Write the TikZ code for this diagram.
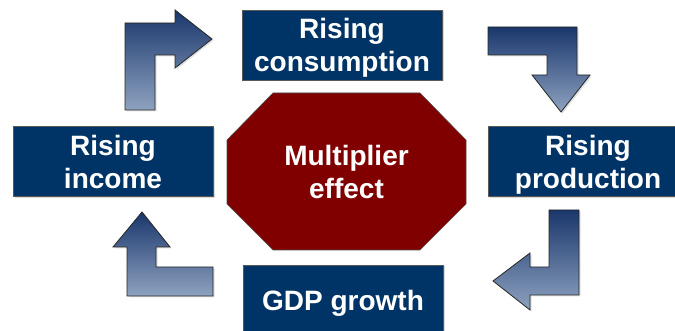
\documentclass[tikz,border=0pt]{standalone}
\usepackage{fontspec}
\setmainfont{Liberation Sans}
\usetikzlibrary{shadows}

\definecolor{boxblue}{RGB}{0,51,102}
\definecolor{multred}{RGB}{128,0,0}
\definecolor{arrowtop}{RGB}{26,55,108}
\definecolor{arrowbot}{RGB}{142,162,192}

\begin{document}
\begin{tikzpicture}[
    x=1pt, y=1pt,
    box/.style={rectangle, draw=black!65, fill=boxblue, text=white,
                minimum width=200pt, minimum height=70pt, align=center,
                text depth=0pt,
                font=\fontsize{28}{33}\selectfont\bfseries,
                drop shadow={shadow xshift=1.5pt, shadow yshift=-1.5pt, opacity=0.3}},
    octa/.style={draw=black!70, fill=multred, line width=0.6pt},
    multtext/.style={text=white, align=center,
                font=\fontsize{28}{33}\selectfont\bfseries},
    bent/.style={draw=black!85, line width=0.8pt, line join=miter,
                top color=arrowtop, bottom color=arrowbot,
                drop shadow={shadow xshift=1.5pt, shadow yshift=-1.5pt, opacity=0.25}}
]
  \useasboundingbox (0,0) rectangle (675,331);

  \node[box] (cons) at (342,286)   {Rising\\consumption};
  \node[box] (prod) at (588,169.5) {Rising\\production};
  \node[box] (gdp)  at (343,31)    {GDP growth};
  \node[box] (inc)  at (113,169.5) {Rising\\income};

  % octagon in the middle
  \path[octa] (273,238) -- (420,238) -- (466,191) -- (466,127)
              -- (420,81) -- (273,81) -- (227,127) -- (227,191) -- cycle;
  \node[multtext] (mult) at (346.5,159.5) {Multiplier\\effect};

  % bent block arrows
  \path[bent] (125,221) -- (125,308) -- (175,308) -- (175,321) -- (212,292)
              -- (175,263) -- (175,276) -- (155,276) -- (155,221) -- cycle;
  \path[bent] (488,304) -- (577,304) -- (577,256) -- (590,256) -- (561,219)
              -- (532,256) -- (547,256) -- (547,276) -- (488,276) -- cycle;
  \path[bent] (549,121) -- (579,121) -- (579,36) -- (530,36) -- (530,21)
              -- (493,50) -- (530,78) -- (530,64) -- (549,64) -- cycle;
  \path[bent] (127,35) -- (127,84) -- (113,84) -- (142,119) -- (170,84)
              -- (156,84) -- (156,64) -- (213,64) -- (213,35) -- cycle;
\end{tikzpicture}
\end{document}
